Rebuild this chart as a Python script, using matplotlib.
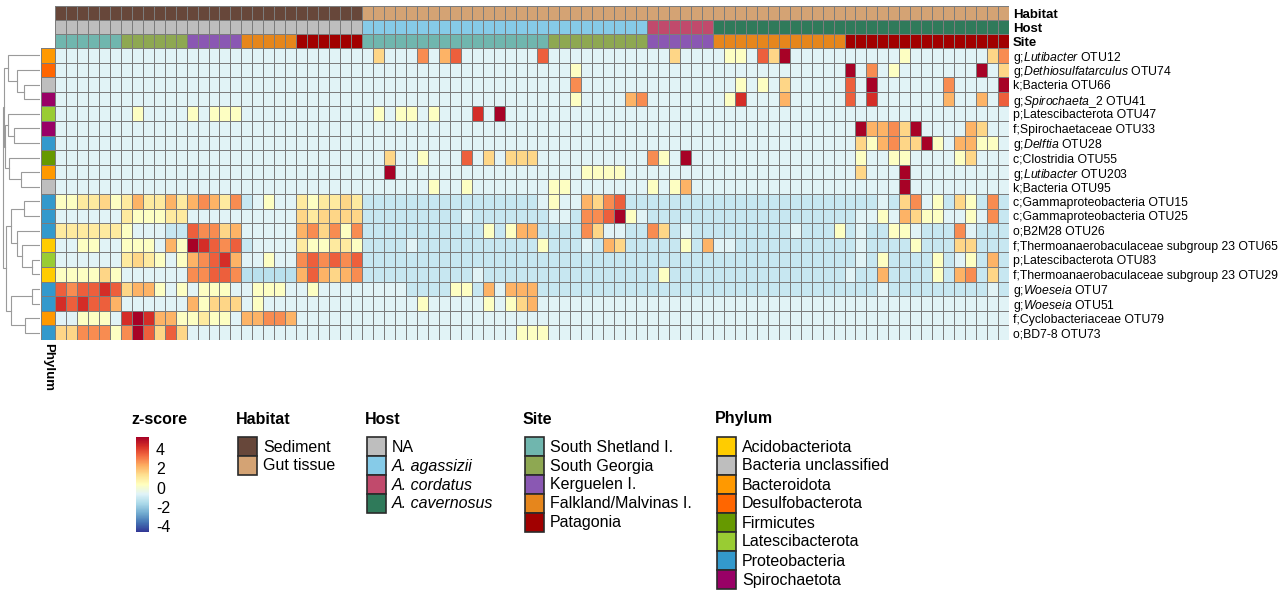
import matplotlib.pyplot as plt
import matplotlib.colors as mcolors
from matplotlib.patches import Rectangle
import numpy as np

plt.rcParams['font.family'] = ['Liberation Sans', 'DejaVu Sans']
plt.rcParams['mathtext.fontset'] = 'custom'
plt.rcParams['mathtext.rm'] = 'Liberation Sans'
plt.rcParams['mathtext.it'] = 'Liberation Sans:italic'
plt.rcParams['axes.unicode_minus'] = False

levels = {'B': -1.4, 'b': -1.1, '.': -0.6, 'c': 0.25, 'y': 1.0, 'Y': 1.5,
          'o': 2.2, 'O': 2.8, 'r': 3.5, 'R': 4.3, 'D': 5.2}

otu_labels = [r"g;$\mathit{Lutibacter}$ OTU12", r"g;$\mathit{Dethiosulfatarculus}$ OTU74",
              "k;Bacteria OTU66", r"g;$\mathit{Spirochaeta}$_2 OTU41",
              "p;Latescibacterota OTU47", "f;Spirochaetaceae OTU33",
              r"g;$\mathit{Delftia}$ OTU28", "c;Clostridia OTU55",
              r"g;$\mathit{Lutibacter}$ OTU203", "k;Bacteria OTU95",
              "c;Gammaproteobacteria OTU15", "c;Gammaproteobacteria OTU25",
              "o;B2M28 OTU26", "f;Thermoanaerobaculaceae subgroup 23 OTU65",
              "p;Latescibacterota OTU83", "f;Thermoanaerobaculaceae subgroup 23 OTU29",
              r"g;$\mathit{Woeseia}$ OTU7", r"g;$\mathit{Woeseia}$ OTU51",
              "f;Cyclobacteriaceae OTU79", "o;BD7-8 OTU73"]

otu_phylum = ["Bacteroidota", "Desulfobacterota", "Bacteria unclassified", "Spirochaetota",
              "Latescibacterota", "Spirochaetota", "Proteobacteria", "Firmicutes",
              "Bacteroidota", "Bacteria unclassified", "Proteobacteria", "Proteobacteria",
              "Proteobacteria", "Acidobacteriota", "Latescibacterota", "Acidobacteriota",
              "Proteobacteria", "Proteobacteria", "Bacteroidota", "Proteobacteria"]

# sample groups: habitat, host, site, number of samples
groups = [("Sediment", "NA", "South Shetland I.", 6),
          ("Sediment", "NA", "South Georgia", 6),
          ("Sediment", "NA", "Kerguelen I.", 5),
          ("Sediment", "NA", "Falkland/Malvinas I.", 5),
          ("Sediment", "NA", "Patagonia", 6),
          ("Gut tissue", "A. agassizii", "South Shetland I.", 17),
          ("Gut tissue", "A. agassizii", "South Georgia", 9),
          ("Gut tissue", "A. cordatus", "Kerguelen I.", 6),
          ("Gut tissue", "A. cavernosus", "Falkland/Malvinas I.", 12),
          ("Gut tissue", "A. cavernosus", "Patagonia", 15)]

# one string per OTU, blocks follow the sample groups above
heat_rows = [
    "...... ...... ..... ..... ...... .Y...O.or.......r ......... ..Y... .cc.rYD..... .....c.......YO",
    "...... ...... ..... ..... ...... ................. ..c...... ...... ............ D.O.c.......D.Y",
    "...... ...... ..... ..... ...... ................. ..O...... ...... ..c.c.Y..... r.D......O....D",
    "...... ...... ..... ..... ...... ................. ..c....oO ...... .cR...o..... r.R......o..o.r",
    "...... .c.... c.ccc ..... ...... .c.cc.c...R.D.... ......... ...... ............ ...............",
    "...... ...... ..... ..... ...... ................. ......... ...... ............ .DooOYD....oY..",
    "...... ...... ..... ..... ...... ................. ......... ...... ............ .YcoOYYDc.oocc.",
    "...... ...... ..... ..... ...... ..Y..c...r.Y.YYY. ......... Oc.D.. ............ .c..cc....cY...",
    "...... ...... ..... ..... ...... ..D.............. ...cccc.. ...... ............ .Y...D.........",
    "...... ...... ..... ..... ...... ......c..c....... cc....... c.co.. ............ .....D.........",
    "ccyyYc yoyyoy oOoyO b.c.. ycyyYy bbbbbbbbbbbbbbbb. c..oYOrbb bbbbbb bbbbbbbbbbbb bbb.bYO.cbYcbOb",
    "...... ycccyy ..... ..... YyYYYY bbbbbbbbb.bbbbbbb ..bOOrDc. bbbbbb bbbbbbbbbbbb b..c.oYcc..c.Ob",
    "yyyyyy c...bb rOOYo ..... oOYOcO bbbbbbbbbbbcbcoob bbbOY..bb OYb.bb bbbbbbb.bbbc b.bbcc.bbbO.bbb",
    "..cc.. ccc.oc DRrOr b.... yccyyc bbbb.bbbbbbbbbbbc bbb.boYbb bbbcbo ..bbbbbbbbbb b.bbbbcbbbYYbbb",
    "...... yYyc.c oOrRo ..c.. OrOrOr bbbbbbbbbbbbbbbbb bbbbbbbbb bbbbbb bbbbbbbbbbbb b.bcbbbbcb.cbob",
    "ccccYc ...... OOrrO BBBBB oroYoO bbbbbbbbbb.bbbbbb bbbbbbbbb bcbbbb bbbbbbbbbbbb .bbobbbbcboObYb",
    "rOrrRr Yooc.c .ccc. .ccc. .c.... ....bbbbccbo.ooob bbbbbbbbb bbbbbb bbbbbbbbbbbb bbb.bbbbbbbbb.b",
    "RrRrro ...... ocYYY .c... ...... .....c.....c.cYo. ......... ...... ............ ...............",
    "..ccc. RDRooc cycc. ooOOo ...... ................. ......... ...... ............ ...............",
    "YYOOOc ODrYrY ..... ..... ...... ..............ccc ......... ...... ............ ...............",
]

# row dendrogram merges: (node a, node b, height); leaves 0-19, new nodes from 20
merges = [(2, 3, 0.42), (1, 20, 0.61), (0, 21, 0.85), (5, 6, 0.71), (4, 23, 0.86),
          (8, 9, 0.52), (7, 25, 0.83), (24, 26, 0.93), (22, 27, 0.96),
          (10, 11, 0.43), (14, 15, 0.22), (13, 30, 0.48), (12, 31, 0.61), (29, 32, 0.78),
          (16, 17, 0.22), (18, 19, 0.39), (34, 35, 0.78), (33, 36, 0.90), (28, 37, 1.0)]

habitat_colors = {"Sediment": "#67473a", "Gut tissue": "#d4a374"}
host_colors = {"NA": "#bebebe", "A. agassizii": "#86cbe8", "A. cordatus": "#c14a6c",
               "A. cavernosus": "#2f7a5a"}
site_colors = {"South Shetland I.": "#70b6ae", "South Georgia": "#8ea852",
               "Kerguelen I.": "#8a58b3", "Falkland/Malvinas I.": "#e6861c",
               "Patagonia": "#a10000"}
phylum_colors = {"Acidobacteriota": "#ffcc00", "Bacteria unclassified": "#bebebe",
                 "Bacteroidota": "#ff9900", "Desulfobacterota": "#ff6600",
                 "Firmicutes": "#669900", "Latescibacterota": "#99cc33",
                 "Proteobacteria": "#3399cc", "Spirochaetota": "#990066"}

# ---- build matrices
Z = np.array([[levels[ch] for ch in r.replace(" ", "")] for r in heat_rows])
nrow, ncol = Z.shape
habitat = [g[0] for g in groups for _ in range(g[3])]
host = [g[1] for g in groups for _ in range(g[3])]
site = [g[2] for g in groups for _ in range(g[3])]

vmin, vmax = -4.6, 5.25
cmap = plt.get_cmap('RdYlBu_r')
W, H = 1287, 593
fig = plt.figure(figsize=(W / 100, H / 100), dpi=100)

def px_axes(x0, y0, x1, y1):
    return fig.add_axes([x0 / W, 1 - y1 / H, (x1 - x0) / W, (y1 - y0) / H])

grid_kw = dict(edgecolors='#7c7c7c', linewidth=0.6)

# heatmap
ax = px_axes(55, 48, 1009, 340)
mesh = ax.pcolormesh(Z, cmap=cmap, vmin=vmin, vmax=vmax, **grid_kw)
ax.set_xlim(0, ncol)
ax.set_ylim(nrow, 0)
ax.set_xticks([])
ax.set_yticks(np.arange(nrow) + 0.5)
ax.set_yticklabels(otu_labels, fontsize=8.8)
for t in ax.get_yticklabels():
    t.set_va('center_baseline')
ax.yaxis.tick_right()
ax.tick_params(axis='y', length=0, pad=3)
for s in ax.spines.values():
    s.set_visible(False)

# column annotations
ann_names = list(habitat_colors) + list(host_colors) + list(site_colors)
ann_cols = list(habitat_colors.values()) + list(host_colors.values()) + list(site_colors.values())
A = np.array([[ann_names.index(h) for h in habitat],
              [ann_names.index(h) for h in host],
              [ann_names.index(s) for s in site]])
aax = px_axes(55, 6, 1009, 48)
aax.pcolormesh(A, cmap=mcolors.ListedColormap(ann_cols), vmin=-0.5,
               vmax=len(ann_cols) - 0.5, **grid_kw)
aax.set_xlim(0, ncol)
aax.set_ylim(3, 0)
aax.set_xticks([])
aax.set_yticks([0.5, 1.5, 2.5])
aax.set_yticklabels(["Habitat", "Host", "Site"], fontsize=9.5, fontweight='bold')
aax.yaxis.tick_right()
aax.tick_params(axis='y', length=0, pad=3)
for s in aax.spines.values():
    s.set_visible(False)

# phylum row annotation
ph_names = list(phylum_colors)
P = np.array([[ph_names.index(p)] for p in otu_phylum])
pax = px_axes(41, 48, 55, 340)
pax.pcolormesh(P, cmap=mcolors.ListedColormap(list(phylum_colors.values())),
               vmin=-0.5, vmax=len(ph_names) - 0.5, **grid_kw)
pax.set_xlim(0, 1)
pax.set_ylim(nrow, 0)
pax.set_xticks([])
pax.set_yticks([])
for s in pax.spines.values():
    s.set_visible(False)
fig.text(48 / W, 1 - 343 / H, "Phylum", rotation=-90, fontsize=9.5,
         fontweight='bold', ha='center', va='top')

# row dendrogram
dax = px_axes(2, 48, 40, 340)
pos = {i: (0.0, i + 0.5) for i in range(nrow)}
for k, (a, b, h) in enumerate(merges):
    xa, ya = pos[a]
    xb, yb = pos[b]
    dax.plot([xa, h, h, xb], [ya, ya, yb, yb], color='#9a9a9a', lw=0.8,
             solid_joinstyle='miter')
    pos[nrow + k] = (h, (ya + yb) / 2)
dax.set_xlim(1.02, 0)
dax.set_ylim(nrow, 0)
dax.axis('off')

# legends
lax = fig.add_axes([0, 0, 1, 1], zorder=-1)
lax.set_xlim(0, W)
lax.set_ylim(H, 0)
lax.axis('off')

def legend_block(x, title, items, italic=False):
    lax.text(x - 2, 419, title, fontsize=11.5, fontweight='bold', va='center', ha='left')
    y = 437
    for name, col in items.items():
        lax.add_patch(Rectangle((x, y), 19, 19, facecolor=col, edgecolor='#2b2b2b', lw=1.2))
        lax.text(x + 25, y + 10, name, fontsize=11.5, va='center', ha='left',
                 fontstyle='italic' if italic and name != "NA" else 'normal')
        y += 19

legend_block(238, "Habitat", habitat_colors)
legend_block(367, "Host", host_colors, italic=True)
legend_block(525, "Site", site_colors)
legend_block(717, "Phylum", phylum_colors)

lax.text(131, 419, "z-score", fontsize=11.5, fontweight='bold', va='center', ha='left')
cax = px_axes(136, 437, 149, 532)
cb = fig.colorbar(mesh, cax=cax, ticks=[-4, -2, 0, 2, 4])
cb.outline.set_visible(False)
cax.tick_params(length=0, labelsize=11.5, pad=5)

fig.savefig("out.png", dpi=100)
